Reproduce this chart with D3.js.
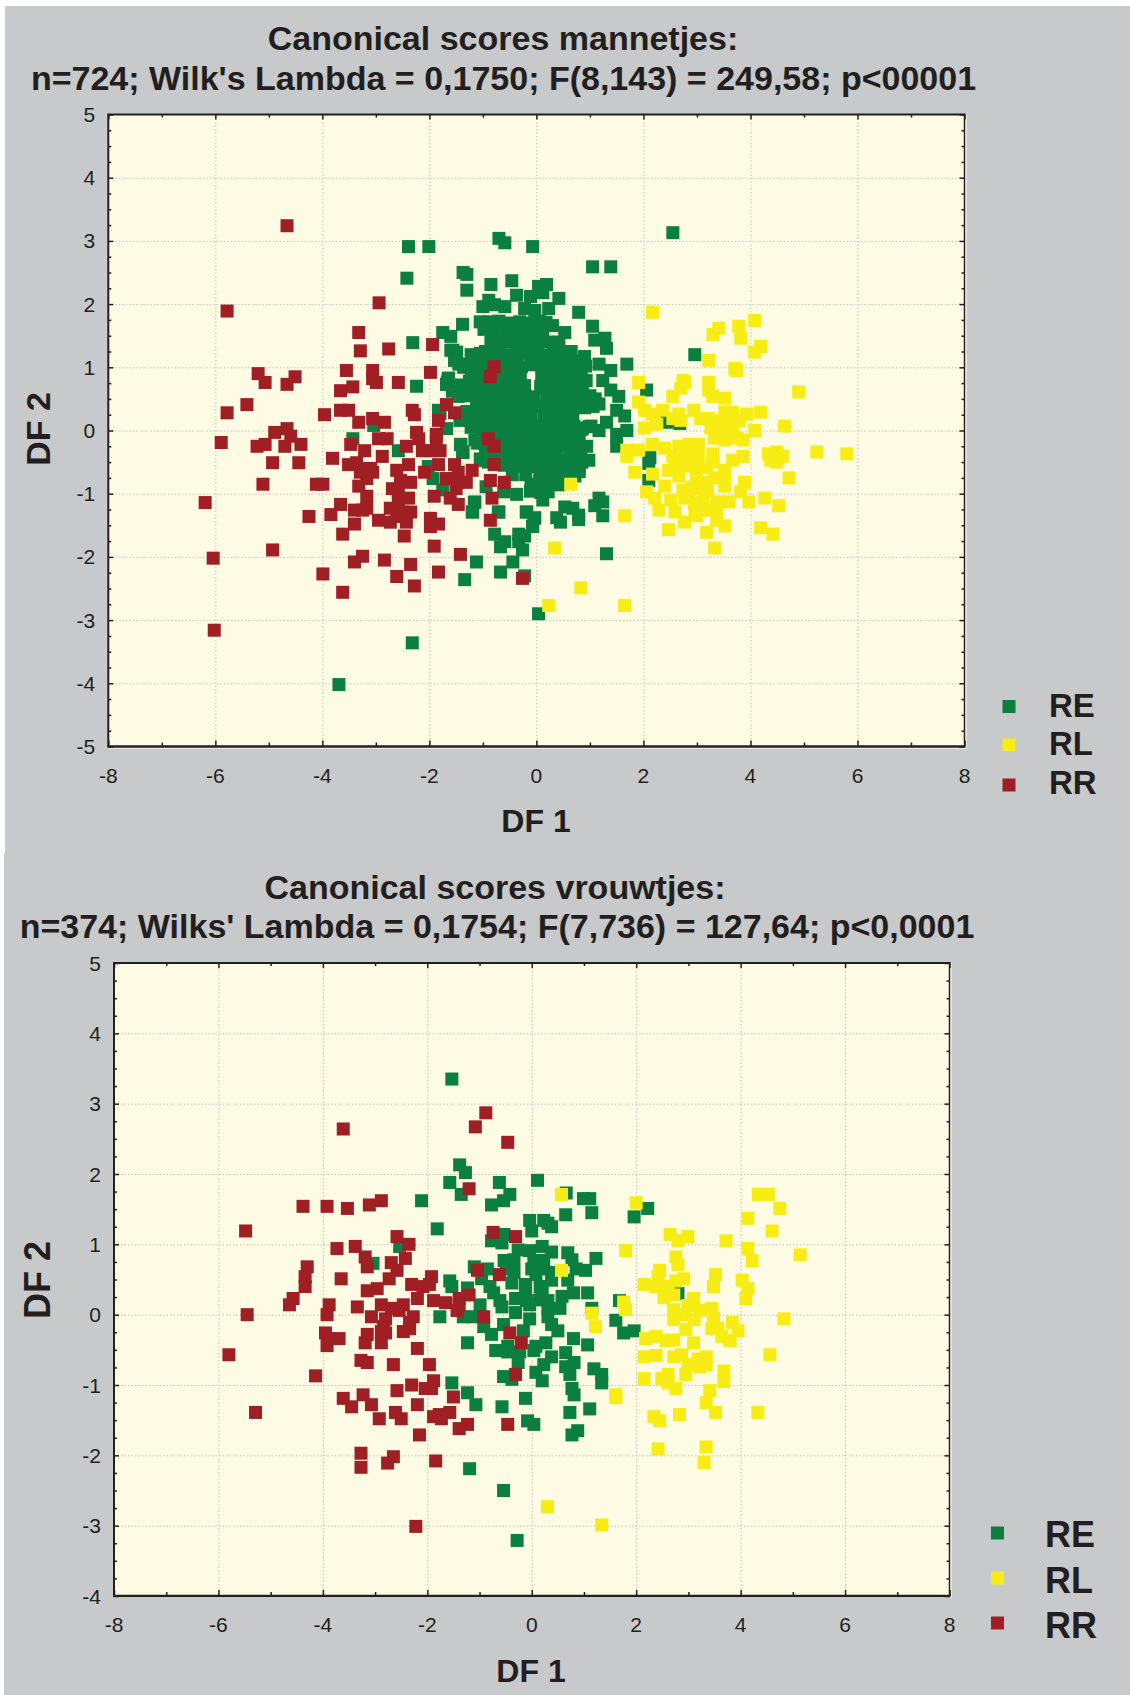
<!DOCTYPE html>
<html><head><meta charset="utf-8"><script src="https://cdn.jsdelivr.net/npm/d3@7"></script>
<style>html,body{margin:0;padding:0;background:#fff}svg{display:block}text{font-family:"Liberation Sans",Arial,sans-serif;fill:#231f20}</style>
</head><body><div id="c"></div><script>
const seriesNames=["RE","RL","RR"];
const seriesColors=["#0b7f40","#f7ec13","#a01f24"];
const xTicks=[-8,-6,-4,-2,0,2,4,6,8];
const yTicksTop=[-5,-4,-3,-2,-1,0,1,2,3,4,5];
const yTicksBottom=[-4,-3,-2,-1,0,1,2,3,4,5];
const titleTop=["Canonical scores mannetjes:","n=724; Wilk's Lambda = 0,1750; F(8,143) = 249,58; p<00001"];
const titleBottom=["Canonical scores vrouwtjes:","n=374; Wilks' Lambda = 0,1754; F(7,736) = 127,64; p<0,0001"];

const maleRE=[[2.55,3.13],[-2.39,2.91],[-2.01,2.91],[-0.7,3.04],[-0.59,2.97],[-0.07,2.91],[1.05,2.59],[1.39,2.59],[-2.42,2.41],[-1.37,2.5],[-1.3,2.47],[-1.3,2.22],[-0.85,2.31],[-0.46,2.37],[-0.37,2.14],[-0.11,2.12],[0.04,2.28],[0.19,2.31],[0.12,2.18],[0.42,2.09],[0.79,1.87],[-0.89,2.06],[-1,1.96],[-0.78,1.99],[-0.59,1.96],[-0.22,1.93],[-0.03,1.9],[0.23,1.93],[-1.38,1.68],[-1.75,1.55],[-1.6,1.49],[-2.31,1.39],[0.53,1.55],[1.05,1.65],[1.09,1.43],[1.28,1.46],[1.31,1.3],[1.69,1.05],[1.17,1.05],[1.39,0.95],[1.24,0.79],[1.39,0.64],[1.54,0.54],[1.17,0.42],[1.5,0.32],[1.65,0.23],[1.69,0],[1.5,-0.06],[1.5,-0.25],[1.31,0.13],[1.17,0],[0.94,-0.25],[0.98,-0.47],[0.83,-0.37],[-1.6,1.27],[-1.49,1.24],[-1.53,1.11],[-1.64,0.83],[-1.68,0.73],[-2.24,0.7],[2.96,1.2],[2.06,0.64],[2.44,0.13],[2.68,0.11],[2.12,-0.43],[2.1,-0.52],[2.1,-0.79],[-1.41,-0.22],[-1.38,-0.34],[-0.97,-0.47],[-1.15,-1.13],[-1.19,-1.29],[-0.7,-1.29],[-0.37,-1.01],[-0.11,-0.96],[0.12,-1.1],[-0.18,-1.29],[-0.03,-1.38],[-0.07,-1.51],[0.38,-1.38],[0.45,-1.45],[0.53,-1.21],[0.68,-1.23],[0.79,-1.34],[0.79,-1.41],[1.09,-1.19],[1.17,-1.07],[1.24,-1.13],[1.24,-1.35],[-0.78,-1.64],[-0.59,-1.76],[-0.67,-1.84],[-0.33,-1.64],[-0.22,-1.67],[-0.33,-1.76],[-0.26,-1.89],[-0.44,-2.08],[-1.12,-2.08],[-0.67,-2.24],[-0.22,-2.3],[-1.34,-2.36],[1.31,-1.95],[0.04,-2.9],[-2.32,-3.36],[-3.69,-4.02],[-1.65,0.82],[-1.68,0.73],[-3.43,-0.13],[-3.04,0.08],[-2.58,-0.32],[-1.42,-0.22],[-1.37,-0.35],[-0.98,-0.47],[-1.83,0.32],[-1.43,0.16],[-1.68,0.03],[-2.02,-0.57],[-1.93,-0.76],[-1.75,-0.94],[-0.94,-0.89],[-0.61,-0.97],[-1.16,-1.14],[-1.2,-1.29],[-0.71,-1.29],[-0.19,-1.29],[-0.04,-1.39],[-0.07,-1.52],[-1.66,0.77],[-1.8,0.27],
[-0.88,1.72],[-0.7,1.73],[-0.5,1.7],[-0.31,1.72],[-0.12,1.7],[0.06,1.73],[0.18,1.71],[-1.05,1.72],[0.3,1.66],[-0.98,1.6],
[-0.8,1.55],[-0.62,1.56],[-0.42,1.53],[-0.25,1.55],[-0.06,1.56],[0.12,1.53],
[-0.72,1.38],[-0.53,1.4],[-0.36,1.37],[-0.15,1.39],[0.03,1.37],[0.2,1.4],[0.32,1.36],[0.42,1.4],[-0.85,1.4],[0.45,1.25],[0.65,1.25],[-0.95,1.25],
[-1.22,1.2],[-1.05,1.22],[-0.9,1.18],[-0.72,1.21],[-0.55,1.2],[-0.36,1.18],[-0.17,1.22],[0,1.2],[0.18,1.19],[0.36,1.21],[0.55,1.18],[0.9,1.17],[0.72,1.1],
[-1.2,1.03],[-1.02,1.04],[-0.84,1.02],[-0.66,1.05],[-0.47,1.03],[-0.28,1.01],[-0.1,1.04],[0.1,1.03],[0.27,1.05],[0.46,1.02],[0.64,1.04],[0.8,1.02],[0.92,1.02],
[-1.22,0.86],[-1.06,0.88],[-0.86,0.85],[-0.68,0.87],[-0.52,0.86],[-0.3,0.88],[0.1,0.86],[0.28,0.87],[0.48,0.85],[0.66,0.88],[0.84,0.86],[0.93,0.79],
[-1.26,0.7],[-1.08,0.71],[-0.88,0.69],[-0.72,0.72],[-0.52,0.7],[-0.34,0.68],[-0.22,0.71],[0.08,0.7],[0.26,0.72],[0.44,0.69],[0.62,0.71],[0.86,0.68],[0.8,0.72],[1,0.55],[1.1,0.5],
[-1.46,0.54],[-1.28,0.55],[-1.1,0.53],[-0.92,0.56],[-0.74,0.54],[-0.56,0.52],[-0.38,0.55],[-0.2,0.54],[-0.04,0.53],[0.2,0.55],[0.38,0.52],[0.56,0.54],[0.74,0.56],[0.92,0.53],
[-1.12,0.38],[-0.95,0.39],[-0.76,0.37],[-0.58,0.4],[-0.4,0.38],[-0.22,0.36],[-0.06,0.39],[0.16,0.38],[0.34,0.4],[0.52,0.37],[0.7,0.39],[0.9,0.36],[1.06,0.38],[-1.3,0.3],
[-1,0.22],[-0.82,0.23],[-0.64,0.21],[-0.46,0.24],[-0.28,0.22],[-0.1,0.2],[0.14,0.23],[0.32,0.22],[0.5,0.2],[0.68,0.24],[-1.2,0.2],
[-1.12,0.06],[-0.96,0.07],[-0.78,0.05],[-0.56,0.08],[-0.38,0.06],[-0.2,0.04],[0,0.07],[0.18,0.06],[0.36,0.08],[0.54,0.05],[0.7,0.07],[0.86,0.04],[0.98,0.06],[-1.22,0.05],[0.85,0.02],[1.02,0.07],
[-1.02,-0.1],[-0.68,-0.09],[-0.55,-0.11],[-0.4,-0.08],[-0.25,-0.1],[-0.08,-0.12],[0.1,-0.09],[0.26,-0.1],[0.4,-0.12],[0.55,-0.08],[0.7,-0.1],[-1.15,-0.15],[-0.98,-0.2],[-0.82,-0.14],[0.8,-0.12],
[-0.6,-0.26],[-0.42,-0.25],[-0.24,-0.27],[-0.06,-0.24],[0.12,-0.26],[0.3,-0.28],[0.5,-0.25],[0.65,-0.26],[-0.78,-0.22],[0.72,-0.28],[-1.1,-0.2],
[-0.85,-0.42],[-0.55,-0.41],[-0.38,-0.43],[-0.2,-0.4],[0,-0.42],[0.18,-0.44],[0.34,-0.41],[-0.95,-0.36],[-0.7,-0.38],[0.72,-0.42],[0.55,-0.45],[-1.05,-0.45],
[-0.38,-0.56],[-0.2,-0.55],[-0.02,-0.57],[0.14,-0.54],[0.32,-0.56],[0.46,-0.58],[0.68,-0.55],[-0.9,-0.5],[-0.75,-0.5],[-0.6,-0.55],[0.85,-0.5],[0.8,-0.6],
[-0.2,-0.7],[0.06,-0.72],[0.24,-0.71],[0.42,-0.73],[0.6,-0.7],[0.72,-0.72],[-0.45,-0.7],[0.8,-0.65],
[0.1,-0.85],[0.3,-0.84],[0.42,-0.86],[0.08,-0.98],[0.22,-0.97],[-0.1,-0.85],
[-1.57,0.62],[-1.42,0.55],[-1.25,0.62],[-1.12,0.68],[-1.4,0.72],[-1.25,0.78],[-1.45,1.05],[-1.36,1],[-1.56,1.27],[-1.5,1.11],[-1.19,1.11]];
const maleRL=[[2.17,1.87],[3.41,1.62],[3.3,1.52],[3.78,1.65],[3.82,1.46],[4.08,1.74],[4.19,1.33],[4.08,1.24],[3.22,1.11],[3.71,0.98],[3.74,0.95],[1.91,0.76],[2.74,0.79],[2.77,0.76],[2.7,0.67],[2.55,0.54],[3.22,0.76],[3.22,0.64],[3.3,0.54],[3.52,0.51],[4.9,0.61],[1.91,0.45],[2.02,0.32],[2.17,0.26],[2.36,0.32],[2.66,0.26],[2.55,0.19],[2.7,0.16],[2.94,0.32],[3.07,0.19],[3.22,0.19],[3.52,0.29],[3.67,0.29],[3.93,0.26],[4.19,0.29],[3.79,0.16],[3.41,0.13],[3.6,0.1],[2.25,0.1],[2.02,0.04],[3.26,0.04],[3.45,0],[3.67,-0.03],[4.08,0],[4.64,0.07],[3.33,-0.12],[3.52,-0.15],[3.74,-0.12],[3.86,-0.15],[2.17,-0.22],[2.4,-0.28],[1.91,-0.31],[1.69,-0.41],[1.69,-0.31],[2.66,-0.25],[2.85,-0.22],[3.03,-0.22],[3.3,-0.37],[2.85,-0.37],[2.55,-0.41],[3.03,-0.41],[3.86,-0.41],[3.67,-0.47],[4.34,-0.37],[4.49,-0.34],[4.6,-0.41],[4.38,-0.47],[4.49,-0.5],[5.24,-0.34],[5.8,-0.37],[1.84,-0.66],[2.17,-0.69],[2.47,-0.63],[2.7,-0.56],[2.85,-0.56],[3.18,-0.59],[3.52,-0.63],[2.66,-0.72],[2.99,-0.72],[3.33,-0.75],[3.52,-0.75],[3.89,-0.82],[4.72,-0.75],[2.4,-0.88],[2.74,-0.94],[3.11,-0.91],[3.52,-0.88],[2.06,-0.97],[3.82,-0.97],[2.21,-1.07],[2.51,-1.1],[2.77,-1.07],[3.11,-1.1],[3.37,-1.13],[3.6,-1.13],[3.97,-1.13],[4.27,-1.07],[4.53,-1.19],[2.29,-1.26],[2.59,-1.29],[2.96,-1.26],[3.18,-1.26],[3.37,-1.23],[1.65,-1.35],[2.77,-1.45],[3,-1.35],[3.37,-1.42],[3.52,-1.51],[3.18,-1.61],[2.47,-1.57],[4.19,-1.54],[4.42,-1.64],[3.33,-1.86],[0.34,-1.86],[0.64,-0.85],[0.83,-2.49],[0.23,-2.77],[1.65,-2.77],[2.9,-0.9],[2.6,-0.55],[3,-0.6],[3.3,-0.5],[3.1,-0.82],[2.85,-1],[3.2,-0.95],[2.7,-0.4],[2.95,-1.15],[3.5,0.15],[3.65,0.05],[3.3,0.15]];
const maleRR=[[-5.78,1.89],[-2.94,2.02],[-3.32,1.55],[-3.29,1.26],[-2.76,1.29],[-1.94,1.36],[-5.2,0.9],[-5.07,0.76],[-4.51,0.85],[-4.66,0.73],[-3.55,0.95],[-3.06,0.95],[-3.06,0.82],[-2.99,0.76],[-2.58,0.76],[-1.98,0.92],[-3.43,0.69],[-3.66,0.63],[-5.41,0.41],[-5.78,0.28],[-3.96,0.25],[-3.66,0.32],[-3.51,0.32],[-2.32,0.32],[-2.28,0.25],[-1.68,0.41],[-1.53,0.28],[-1.83,0.16],[-3.32,0.13],[-3.06,0.19],[-2.84,0.13],[-4.66,0.03],[-4.89,-0.03],[-4.59,-0.09],[-5.89,-0.19],[-5.07,-0.22],[-5.22,-0.25],[-4.7,-0.25],[-4.4,-0.22],[-3.47,-0.22],[-2.95,-0.13],[-2.79,-0.13],[-2.24,-0.03],[-2.2,-0.13],[-1.87,-0.06],[-1.87,-0.16],[-3.21,-0.32],[-2.43,-0.25],[-2.13,-0.32],[-1.98,-0.32],[-1.8,-0.32],[-2.88,-0.41],[-3.81,-0.44],[-4.93,-0.51],[-4.44,-0.51],[-3.51,-0.54],[-3.36,-0.51],[-3.25,-0.6],[-3.1,-0.6],[-3.06,-0.66],[-3.29,-0.66],[-3.17,-0.76],[-2.39,-0.54],[-2.61,-0.63],[-2.09,-0.66],[-1.83,-0.54],[-1.53,-0.54],[-1.2,-0.63],[-1.46,-0.66],[-1.68,-0.76],[-1.53,-0.76],[-1.31,-0.82],[-1.46,-0.82],[-1.5,-0.92],[-0.79,-0.54],[-0.9,-0.13],[-0.79,-0.25],[-0.86,-0.79],[-0.6,-0.82],[-0.79,1.01],[-0.86,0.85],[-5.11,-0.85],[-4.11,-0.85],[-3.99,-0.85],[-3.32,-0.88],[-3.17,-1.04],[-2.35,-0.82],[-2.54,-0.79],[-2.69,-0.92],[-2.58,-0.98],[-2.39,-1.07],[-2.58,-1.07],[-1.91,-1.04],[-1.61,-1.07],[-1.46,-1.17],[-0.83,-1.07],[-6.19,-1.14],[-3.66,-1.17],[-3.84,-1.33],[-4.25,-1.36],[-3.4,-1.26],[-3.17,-1.23],[-3.25,-1.26],[-2.73,-1.23],[-2.58,-1.23],[-2.35,-1.29],[-2.5,-1.29],[-2.61,-1.36],[-2.95,-1.42],[-2.73,-1.45],[-2.43,-1.45],[-1.98,-1.39],[-1.83,-1.48],[-1.98,-1.52],[-0.86,-1.42],[-3.4,-1.48],[-3.62,-1.64],[-2.47,-1.67],[-1.91,-1.83],[-1.42,-1.96],[-4.93,-1.89],[-6.04,-2.02],[-3.25,-1.99],[-3.4,-2.08],[-2.84,-2.05],[-2.35,-2.12],[-1.83,-2.24],[-3.99,-2.27],[-2.61,-2.31],[-2.28,-2.46],[-3.62,-2.56],[-0.26,-2.34],[-6.02,-3.16],[-4.66,3.24]];

const femaleRE=[[-1.53,3.35],[-1.38,2.13],[-1.27,2.02],[-1.57,1.88],[-1.35,1.71],[-0.62,1.88],[0.11,1.91],[-0.42,1.71],[-0.54,1.62],[-0.77,1.56],[-2.11,1.62],[0.66,1.73],[0.99,1.65],[1.11,1.65],[1.15,1.45],[0.65,1.42],[2.22,1.51],[1.96,1.39],[-1.81,1.22],[-0.04,1.34],[0.23,1.34],[0.31,1.3],[0.38,1.25],[0,1.19],[-0.77,1.05],[-0.57,1.02],[-0.53,1.14],[-2.53,0.97],[0.2,0.97],[-0.26,0.92],[0.38,0.89],[-0.04,0.91],[0.69,0.88],[1.23,0.8],[0.77,0.78],[-3.04,0.73],[-0.34,0.78],[-0.53,0.77],[0.04,0.77],[0.23,0.77],[-1.1,0.68],[-0.85,0.65],[-0.49,0.65],[0,0.65],[0.2,0.65],[0.85,0.65],[1.03,0.63],[0.38,0.6],[-0.34,0.6],[0.08,0.57],[0.38,0.49],[0.69,0.49],[-0.38,0.45],[-0.96,0.51],[-1.57,0.48],[-1.53,0.4],[-0.8,0.4],[-1.23,0.38],[-0.12,0.43],[0.16,0.4],[-0.73,0.31],[-0.12,0.34],[0.2,0.34],[0.8,0.31],[1.07,0.31],[0.58,0.26],[-0.31,0.23],[-0.1,0.2],[0.15,0.21],[0.31,0.2],[-0.61,0.2],[-0.99,0.14],[-0.57,0.11],[-0.31,0.03],[-0.04,0.14],[0.31,0.09],[0.54,0.09],[1.68,0.2],[1.15,0.09],[-1.76,-0.03],[-1.31,-0.03],[-1.15,-0.03],[0.31,-0.03],[-0.04,-0.06],[0.38,-0.14],[-0.92,-0.17],[-0.54,-0.14],[1.61,-0.08],[-0.77,-0.28],[-0.16,-0.23],[0.5,-0.23],[1.96,-0.23],[1.76,-0.26],[0.8,-0.34],[-1.23,-0.4],[0.27,-0.4],[1.07,-0.43],[0.08,-0.45],[-0.69,-0.51],[-0.46,-0.45],[-0.46,-0.53],[-0.23,-0.53],[0.04,-0.51],[0.38,-0.6],[0.65,-0.54],[0.81,-0.68],[-0.26,-0.68],[0.23,-0.71],[0.65,-0.74],[1.19,-0.77],[0.08,-0.82],[0.73,-0.85],[1.34,-0.85],[-0.54,-0.88],[-0.38,-0.92],[0.2,-0.94],[1.34,-0.97],[-1.53,-0.97],[0.77,-1.05],[-1.23,-1.11],[0.81,-1.14],[-0.12,-1.19],[-1.07,-1.28],[-0.57,-1.31],[1.11,-1.34],[0.73,-1.39],[-0.08,-1.51],[0.04,-1.56],[0.88,-1.65],[0.77,-1.71],[-1.19,-2.19],[-0.54,-2.5],[-0.28,-3.21],[2.8,0.3]];
const femaleRL=[[0.57,1.71],[2,1.59],[4.34,1.71],[4.53,1.71],[4.75,1.51],[4.14,1.37],[4.6,1.19],[2.65,1.14],[2.8,1.05],[2.99,1.11],[3.72,1.05],[4.14,0.94],[1.8,0.91],[5.14,0.85],[2.76,0.82],[4.22,0.77],[2.8,0.71],[0.57,0.63],[2.45,0.63],[3.52,0.57],[2.42,0.54],[2.91,0.51],[2.76,0.48],[4.03,0.49],[2.15,0.43],[2.38,0.4],[2.61,0.4],[3.48,0.4],[4.14,0.37],[2.53,0.24],[2.72,0.28],[4.1,0.23],[3.1,0.23],[1.76,0.18],[1.8,0.07],[1.15,0.02],[2.99,0.13],[2.72,0.07],[3.45,0.09],[3.22,0.06],[2.95,0],[2.72,-0.07],[3.11,-0.07],[3.48,-0.05],[4.83,-0.06],[3.84,-0.11],[1.22,-0.17],[2.95,-0.21],[3.45,-0.2],[3.56,-0.19],[3.95,-0.23],[3.64,-0.31],[3.8,-0.37],[2.18,-0.34],[2.38,-0.31],[2.57,-0.37],[2.72,-0.36],[3.1,-0.4],[4.56,-0.57],[2.15,-0.6],[2.38,-0.58],[2.72,-0.6],[2.87,-0.57],[3.19,-0.63],[3.34,-0.6],[2.99,-0.71],[3.22,-0.74],[3.34,-0.71],[3.68,-0.8],[2.95,-0.85],[2.15,-0.91],[2.61,-0.85],[2.49,-0.91],[2.61,-0.97],[3.68,-0.95],[2.76,-1.05],[3.41,-1.08],[1.61,-1.14],[1.61,-1.18],[3.34,-1.25],[3.52,-1.39],[4.33,-1.39],[2.83,-1.42],[2.34,-1.45],[2.45,-1.51],[2.42,-1.91],[3.34,-1.88],[3.3,-2.1],[0.3,-2.73],[1.34,-2.99]];
const femaleRR=[[-0.88,2.87],[-1.08,2.67],[-0.46,2.45],[-3.61,2.64],[-1.2,1.79],[-2.88,1.62],[-3.11,1.56],[-3.53,1.51],[-3.92,1.54],[-4.38,1.54],[-5.48,1.19],[-0.74,1.17],[-0.31,1.11],[-2.58,1.11],[-2.35,1],[-3.38,0.97],[-3.73,0.94],[-3.19,0.82],[-2.42,0.8],[-2.69,0.74],[-3.15,0.68],[-4.3,0.68],[-2.58,0.63],[-4.34,0.54],[-4.34,0.4],[-2.73,0.51],[-3.65,0.51],[-1.92,0.54],[-1.04,0.63],[-0.62,0.57],[-2.3,0.43],[-2.08,0.4],[-1.96,0.43],[-2.96,0.37],[-3.15,0.34],[-4.57,0.23],[-4.64,0.14],[-3.88,0.14],[-3.92,0],[-3.34,0.11],[-2.88,0.14],[-2.46,0.14],[-2.69,0.09],[-2.54,0.06],[-2.19,0.23],[-1.88,0.2],[-1.65,0.17],[-1.39,0.23],[-1.2,0.28],[-1.43,0.06],[-1.39,0.14],[-5.45,0],[-3.07,-0.03],[-2.8,-0.06],[-2.27,-0.03],[-2.34,-0.11],[-0.92,-0.03],[-2.84,-0.17],[-2.88,-0.24],[-3.95,-0.26],[-2.34,-0.2],[-2.46,-0.24],[-2.8,-0.26],[-3.15,-0.28],[-3.69,-0.34],[-3.92,-0.44],[-3.88,-0.34],[-3.19,-0.4],[-2.88,-0.4],[-0.42,-0.26],[-0.2,-0.4],[-2.19,-0.48],[-5.8,-0.57],[-3.27,-0.65],[-3.15,-0.68],[-2.65,-0.71],[-1.96,-0.71],[-4.14,-0.87],[-0.31,-0.85],[-1.88,-0.94],[-2.3,-1],[-2.04,-1.05],[-1.92,-1.05],[-2.58,-1.08],[-3.23,-1.14],[-3.61,-1.19],[-1.5,-1.17],[-3.07,-1.28],[-3.45,-1.31],[-2.19,-1.28],[-5.29,-1.39],[-2.61,-1.39],[-2.5,-1.48],[-2.92,-1.48],[-1.57,-1.39],[-1.77,-1.42],[-1.88,-1.45],[-1.73,-1.48],[-1.23,-1.56],[-1.39,-1.62],[-0.46,-1.56],[-2.15,-1.71],[-3.27,-1.97],[-3.27,-2.17],[-2.65,-2.02],[-2.76,-2.11],[-1.84,-2.08],[-2.22,-3.01]];

const W=1130,H=1695;
const svg=d3.select("#c").append("svg").attr("width",W).attr("height",H).attr("viewBox",`0 0 ${W} ${H}`);
svg.append("rect").attr("x",5).attr("y",6).attr("width",W-5).attr("height",848).attr("fill","#c8c9cb");
svg.append("rect").attr("x",4).attr("y",853).attr("width",W-4).attr("height",H-853).attr("fill","#c8c9cb");

function panel(o){
  const g=svg.append("g");
  const x=d3.scaleLinear().domain([-8,8]).range([o.l,o.r]);
  const y=d3.scaleLinear().domain(o.yDomain).range([o.b,o.t]);
  const w=o.r-o.l,h=o.b-o.t;
  g.append("rect").attr("x",o.l).attr("y",o.t).attr("width",w+2).attr("height",h+2).attr("fill","#fff");
  g.append("rect").attr("x",o.l).attr("y",o.t).attr("width",w).attr("height",h).attr("fill","#fdfbe3");
  const gx=g.append("g").attr("transform",`translate(0,${o.b})`).call(d3.axisBottom(x).tickValues(xTicks.slice(1,-1)).tickSize(-h).tickFormat(""));
  const gy=g.append("g").attr("transform",`translate(${o.l},0)`).call(d3.axisLeft(y).tickValues(o.yTicks.slice(1,-1)).tickSize(-w).tickFormat(""));
  [gx,gy].forEach(a=>{a.select(".domain").remove();a.selectAll("line").attr("stroke","#c4c4bc").attr("stroke-width",1).attr("stroke-dasharray","1.5 2");});
  const S=o.size;
  [o.re,o.rl,o.rr].forEach((d,i)=>{
    g.append("g").selectAll("rect").data(d).join("rect")
      .attr("x",p=>x(p[0])-S/2).attr("y",p=>y(p[1])-S/2).attr("width",S).attr("height",S)
      .attr("fill",seriesColors[i]);
  });
  const xMinor=d3.range(-7,8,2), yMinor=d3.range(o.yDomain[0],o.yDomain[1],0.25).filter(v=>!Number.isInteger(v));
  function deco(sel){sel.select(".domain").remove();sel.selectAll("line").attr("stroke","#231f20").attr("stroke-width",1.5);sel.selectAll("text").remove();return sel;}
  deco(g.append("g").attr("transform",`translate(0,${o.b})`).call(d3.axisBottom(x).tickValues(xTicks).tickSize(-6)));
  deco(g.append("g").attr("transform",`translate(0,${o.b})`).call(d3.axisBottom(x).tickValues(xMinor).tickSize(-4)));
  deco(g.append("g").attr("transform",`translate(0,${o.t})`).call(d3.axisTop(x).tickValues(xTicks).tickSize(-5)));
  deco(g.append("g").attr("transform",`translate(0,${o.t})`).call(d3.axisTop(x).tickValues(xMinor).tickSize(-3)));
  deco(g.append("g").attr("transform",`translate(${o.l},0)`).call(d3.axisLeft(y).tickValues(o.yTicks).tickSize(-5)));
  deco(g.append("g").attr("transform",`translate(${o.l},0)`).call(d3.axisLeft(y).tickValues(yMinor).tickSize(-3)));
  deco(g.append("g").attr("transform",`translate(${o.r},0)`).call(d3.axisRight(y).tickValues(o.yTicks).tickSize(-5)));
  deco(g.append("g").attr("transform",`translate(${o.r},0)`).call(d3.axisRight(y).tickValues(yMinor).tickSize(-3)));
  g.append("line").attr("x1",o.l-1).attr("x2",o.r+1).attr("y1",o.t).attr("y2",o.t).attr("stroke","#231f20").attr("stroke-width",2);
  g.append("line").attr("x1",o.l-1).attr("x2",o.r+1).attr("y1",o.b).attr("y2",o.b).attr("stroke","#231f20").attr("stroke-width",2.5);
  g.append("line").attr("x1",o.l).attr("x2",o.l).attr("y1",o.t).attr("y2",o.b).attr("stroke","#231f20").attr("stroke-width",2);
  g.append("line").attr("x1",o.r).attr("x2",o.r).attr("y1",o.t).attr("y2",o.b).attr("stroke","#231f20").attr("stroke-width",1.5);
  g.append("g").selectAll("text").data(xTicks).join("text").attr("x",d=>x(d)).attr("y",o.xLabelY).attr("text-anchor","middle").attr("font-size",21).text(String);
  g.append("g").selectAll("text").data(o.yTicks).join("text").attr("x",o.l-13).attr("y",d=>y(d)+7.5).attr("text-anchor","end").attr("font-size",21).text(String);
  o.title.forEach((s,i)=>g.append("text").attr("x",o.tx[i]).attr("y",o.ty[i]).attr("text-anchor","middle").attr("font-weight","bold").attr("font-size",o.tf).text(s));
  g.append("text").attr("x",o.xTitleX).attr("y",o.xTitleY).attr("text-anchor","middle").attr("font-weight","bold").attr("font-size",32).text("DF 1");
  g.append("text").attr("transform",`translate(${o.yTitleX},${o.yTitleC}) rotate(-90)`).attr("text-anchor","middle").attr("font-weight","bold").attr("font-size",o.yTitleF).text("DF 2");
  seriesNames.forEach((n,i)=>{
    g.append("rect").attr("x",o.lmx-6.5).attr("y",o.lmy[i]-6.5).attr("width",13).attr("height",13).attr("fill",seriesColors[i]);
    g.append("text").attr("x",o.ltx).attr("y",o.lty[i]).attr("font-weight","bold").attr("font-size",o.lf).text(n);
  });
}
panel({l:108.3,r:964.5,t:114.5,b:746.5,yDomain:[-5,5],yTicks:yTicksTop,size:13,re:maleRE,rl:maleRL,rr:maleRR,
  xLabelY:782.5,title:titleTop,tx:[503,503.5],ty:[50,90],tf:34,xTitleX:536,xTitleY:832,yTitleX:50,yTitleC:429,yTitleF:34,
  lmx:1009,lmy:[706.5,745,785],ltx:1049,lty:[716.5,755,794],lf:33});
panel({l:114,r:949.5,t:963,b:1596,yDomain:[-4,5],yTicks:yTicksBottom,size:13,re:femaleRE,rl:femaleRL,rr:femaleRR,
  xLabelY:1631.5,title:titleBottom,tx:[495,497],ty:[899,938],tf:34,xTitleX:531,xTitleY:1681.5,yTitleX:50,yTitleC:1280,yTitleF:36,
  lmx:997.5,lmy:[1533,1578,1623],ltx:1045,lty:[1546.5,1592.5,1638],lf:36});
</script></body></html>
